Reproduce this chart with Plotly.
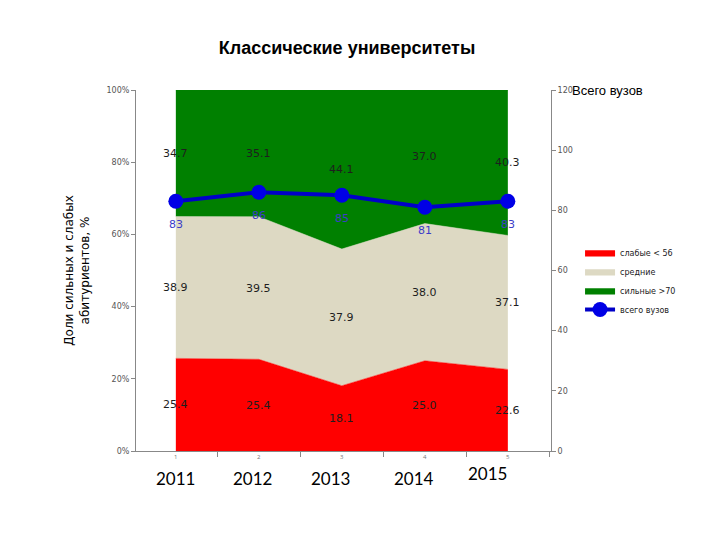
import plotly.graph_objects as go
import numpy as np

x = [1, 2, 3, 4, 5]
tick_text = ["1", "2", "3", "4", "5"]
years = ["2011", "2012", "2013", "2014", "2015"]
year_pos = [1.0, 1.92, 2.86, 3.87, 4.75]
weak = [25.4, 25.4, 18.1, 25.0, 22.6]
middle = [38.9, 39.5, 37.9, 38.0, 37.1]
strong = [34.7, 35.1, 44.1, 37.0, 40.3]
total = [83, 86, 85, 81, 83]

names = ["слабые < 56", "средние", "сильные >70", "всего вузов"]
colors = ["rgb(255,0,0)", "rgb(221,217,195)", "rgb(0,128,0)"]

fig = go.Figure()
for vals, nm, col in zip([weak, middle, strong], names[:3], colors):
    fig.add_trace(go.Scatter(
        x=x, y=vals, name=nm, mode="lines", stackgroup="one", groupnorm="percent",
        line=dict(width=0.5, color=col), fillcolor=col, hoverinfo="skip"))

fig.add_trace(go.Scatter(
    x=x, y=total, name=names[3], mode="lines+markers", yaxis="y2",
    line=dict(color="rgb(0,0,200)", width=4),
    marker=dict(size=15, color="rgb(0,0,230)")))

for xi, v in zip(x, total):
    fig.add_annotation(x=xi, y=v, xref="x", yref="y2", yshift=-23, text=str(v),
                       showarrow=False,
                       font=dict(family="DejaVu Sans", size=11, color="rgb(60,60,200)"))

# band labels at mid-height of each normalized band
arr = np.array([weak, middle, strong], dtype=float)
norm = arr / arr.sum(axis=0) * 100
cum = np.cumsum(norm, axis=0)
for k in range(3):
    for i in range(5):
        mid = cum[k, i] - norm[k, i] / 2
        fig.add_annotation(x=x[i], y=mid, xref="x", yref="y",
                           text=f"{arr[k, i]:.1f}", showarrow=False,
                           font=dict(family="DejaVu Sans", size=11, color="rgb(30,30,30)"))

for yr, xp in zip(years, year_pos):
    fig.add_annotation(x=xp, y=-0.11 if yr != "2015" else -0.097, xref="x", yref="paper",
                       text=yr, showarrow=False,
                       font=dict(family="Lato", size=17, color="black"))

fig.update_layout(
    width=720, height=540,
    margin=dict(l=136, r=169, t=90, b=89),
    paper_bgcolor="white", plot_bgcolor="white",
    title=dict(text="<b>Классические университеты</b>", x=0.482, xanchor="center",
               y=0.912, yanchor="middle",
               font=dict(family="Liberation Sans", size=18, color="black")),
    xaxis=dict(range=[0.52, 5.52], tickvals=x, ticktext=tick_text, ticks="",
               tickfont=dict(size=6, color="#777"), showgrid=False, zeroline=False,
               showline=True, linecolor="#888", linewidth=1,
               minor=dict(ticks="outside", tick0=0.5, dtick=1, ticklen=5, tickcolor="#888")),
    yaxis=dict(range=[0, 100], dtick=20, ticksuffix="%", ticks="outside", ticklen=4,
               tickcolor="#888", tickfont=dict(family="DejaVu Sans", size=8, color="#555"),
               showgrid=False, zeroline=False, showline=True, linecolor="#888",
               title=dict(text="Доли сильных и слабых<br>абитуриентов, %", standoff=14,
                          font=dict(family="DejaVu Sans", size=12, color="black"))),
    yaxis2=dict(range=[0, 120], dtick=20, overlaying="y", side="right", ticks="outside",
                ticklen=4, tickcolor="#888",
                tickfont=dict(family="DejaVu Sans", size=8, color="#555"),
                showgrid=False, zeroline=False, showline=True, linecolor="#888"),
    legend=dict(x=1.07, y=0.59, xanchor="left", yanchor="top", traceorder="normal",
                font=dict(family="DejaVu Sans", size=8, color="#222"),
                bgcolor="rgba(0,0,0,0)", tracegroupgap=0, itemwidth=30),
    showlegend=True,
)
fig.add_annotation(x=1.046, y=1.0, xref="paper", yref="paper", xanchor="left",
                   yanchor="middle", text="Всего вузов", showarrow=False,
                   font=dict(family="Liberation Sans", size=13, color="black"))

fig.write_html("out.html")
